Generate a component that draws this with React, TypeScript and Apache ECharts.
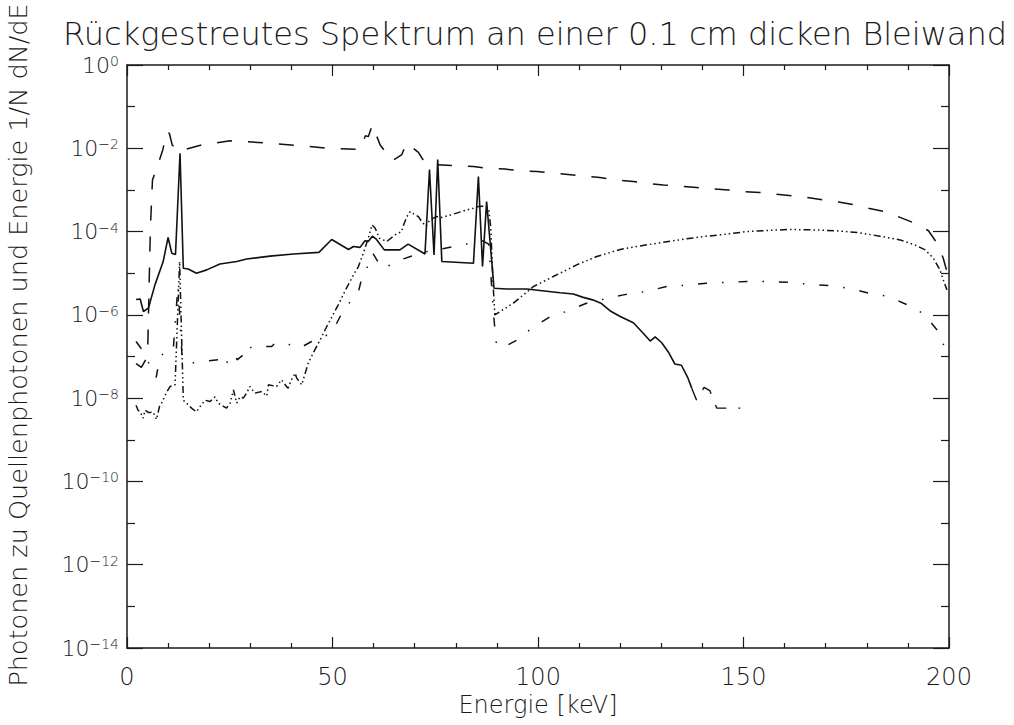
import React, { useEffect, useRef } from "react";
import * as echarts from "echarts";

// Energies (keV) and log10(1/N dN/dE)
const solidE = [2.2, 3.2, 4.0, 5.2, 6.8, 8.8, 10.0, 10.9, 11.8, 12.9, 13.7, 14.9, 16.9, 19.4, 22.6, 26.7, 29.1, 34.8, 40.5, 46.7, 49.8, 53.9, 55.1, 56.7, 57.9, 58.7, 59.7, 60.7, 62.6, 66.4, 68.4, 72.5, 73.6, 74.7, 75.6, 76.6, 84.3, 85.5, 86.5, 87.5, 89.3, 92.4, 97.3, 101.0, 105.4, 108.6, 111.0, 113.3, 115.3, 117.5, 120.0, 123.2, 125.6, 127.3, 128.5, 130.1, 131.7, 133.3, 134.9, 136.5, 137.4];
const solidLog = [-5.63, -5.62, -5.92, -5.84, -5.28, -4.72, -4.14, -4.52, -4.55, -2.12, -4.88, -4.90, -5.0, -4.92, -4.78, -4.72, -4.66, -4.59, -4.54, -4.50, -4.19, -4.43, -4.36, -4.38, -4.22, -4.24, -4.11, -4.19, -4.44, -4.44, -4.30, -4.54, -2.51, -4.56, -2.27, -4.72, -4.76, -2.68, -4.84, -3.28, -5.36, -5.38, -5.38, -5.42, -5.47, -5.50, -5.58, -5.64, -5.72, -5.90, -6.04, -6.19, -6.44, -6.63, -6.53, -6.67, -6.89, -7.18, -7.21, -7.52, -7.76];

const tailE = [137.4, 138.6, 140.4, 141.8, 143.5, 149.2];
const tailLog = [-7.76, -8.05, -7.74, -7.82, -8.24, -8.24];

const dashedE = [2.2, 3.5, 5.0, 5.4, 5.7, 6.2, 7.4, 8.7, 9.7, 10.3, 11.0, 12.5, 13.7, 18.2, 25.1, 33.6, 41.3, 49.0, 56.7, 58.0, 58.7, 59.7, 61.6, 64.5, 66.8, 68.1, 70.9, 72.7, 76.6, 80.2, 84.3, 87.5, 92.0, 95.6, 99.7, 111.4, 115.1, 119.1, 123.2, 126.4, 130.5, 134.5, 138.6, 141.8, 146.3, 149.9, 154.0, 157.7, 161.7, 165.4, 169.4, 173.1, 177.1, 180.4, 184.4, 188.1, 191.7, 195.0, 197.4, 198.6, 199.6];
const dashedLog = [-7.17, -7.26, -7.0, -5.2, -3.9, -2.76, -2.43, -2.04, -1.60, -1.64, -1.92, -2.08, -2.04, -1.92, -1.82, -1.87, -1.93, -2.0, -2.03, -1.70, -1.72, -1.44, -1.92, -2.3, -2.16, -1.87, -2.1, -2.38, -2.40, -2.42, -2.44, -2.48, -2.50, -2.54, -2.56, -2.67, -2.70, -2.76, -2.80, -2.84, -2.88, -2.91, -2.94, -2.97, -3.0, -3.04, -3.06, -3.10, -3.14, -3.18, -3.24, -3.29, -3.36, -3.44, -3.52, -3.66, -3.80, -3.98, -4.32, -4.64, -5.0];

const dashDotE = [2.2, 4.0, 5.5, 6.4, 7.1, 7.9, 9.7, 11.3, 12.4, 13.4, 14.5, 15.3, 18.6, 22.2, 22.6, 24.6, 26.3, 26.8, 28.3, 29.5, 30.3, 32.8, 35.2, 36.0, 39.2, 41.3, 42.7, 44.9, 47.5, 49.4, 50.6, 52.5, 55.1, 56.3, 57.2, 59.0, 59.8, 62.0, 65.2, 66.8, 72.0, 77.4, 81.6, 86.5, 88.0, 89.2, 89.8, 91.2, 95.0, 98.7, 102.7, 107.4, 111.8, 116.6, 120.8, 126.2, 131.3, 136.0, 141.0, 145.7, 150.8, 155.9, 160.9, 165.6, 170.9, 175.5, 180.6, 185.2, 189.9, 193.9, 197.4, 199.0, 199.8];
const dashDotLog = [-6.64, -6.88, -7.2, -7.4, -7.5, -7.07, -6.77, -6.77, -5.3, -7.0, -7.04, -7.16, -7.12, -7.08, -6.96, -7.16, -6.96, -7.08, -6.96, -6.72, -6.80, -6.76, -6.76, -6.68, -6.72, -6.68, -6.76, -6.64, -6.55, -6.44, -6.28, -5.92, -5.58, -5.45, -5.08, -4.76, -4.52, -4.88, -4.76, -4.67, -4.5, -4.40, -4.32, -4.22, -4.3, -6.0, -6.65, -6.80, -6.6, -6.30, -6.06, -5.90, -5.72, -5.61, -5.52, -5.44, -5.32, -5.29, -5.24, -5.22, -5.20, -5.20, -5.22, -5.26, -5.30, -5.36, -5.48, -5.56, -5.76, -5.98, -6.40, -6.80, -7.0];

const dash3DotE = [2.2, 2.7, 3.2, 3.9, 4.4, 5.3, 6.3, 7.2, 7.9, 8.4, 9.7, 10.5, 11.7, 12.8, 13.7, 14.5, 15.7, 16.9, 17.8, 19.0, 20.2, 21.4, 22.2, 24.2, 25.1, 25.9, 26.7, 27.5, 28.3, 29.1, 29.9, 31.1, 32.8, 34.0, 34.4, 36.4, 37.6, 38.8, 39.2, 40.0, 40.5, 40.9, 41.3, 42.5, 44.1, 45.7, 47.0, 48.6, 51.4, 53.4, 55.1, 56.3, 57.5, 58.7, 59.6, 60.4, 61.4, 63.2, 65.2, 66.8, 67.3, 68.1, 68.9, 70.1, 70.9, 71.7, 72.7, 73.7, 75.3, 76.6, 79.4, 81.4, 83.1, 84.3, 85.5, 86.7, 88.0, 88.5, 89.1, 89.5, 94.0, 98.9, 103.7, 109.4, 114.3, 120.0, 124.0, 128.9, 135.0, 140.2, 145.1, 150.8, 156.4, 161.3, 167.0, 172.7, 178.3, 183.2, 188.1, 191.7, 194.2, 196.2, 197.8, 198.6, 199.5];
const dash3DotLog = [-8.17, -8.29, -8.33, -8.48, -8.29, -8.35, -8.33, -8.51, -8.2, -8.12, -7.85, -7.72, -7.68, -4.72, -8.05, -8.12, -8.24, -8.33, -8.2, -8.05, -8.08, -7.97, -8.12, -8.24, -8.12, -7.8, -8.12, -7.97, -8.0, -7.88, -7.72, -7.88, -7.84, -7.95, -7.68, -7.72, -7.56, -7.72, -7.76, -7.56, -7.48, -7.40, -7.52, -7.68, -7.16, -6.84, -6.6, -6.28, -5.76, -5.36, -5.04, -4.84, -4.52, -4.16, -3.84, -3.92, -4.16, -4.24, -4.08, -4.0, -3.84, -3.64, -3.52, -3.6, -3.64, -3.76, -3.87, -3.72, -3.64, -3.66, -3.58, -3.52, -3.47, -3.44, -3.40, -3.39, -3.45, -3.9, -5.32, -6.0, -5.72, -5.32, -5.08, -4.80, -4.60, -4.43, -4.36, -4.28, -4.19, -4.12, -4.07, -4.0, -3.97, -3.95, -3.96, -3.98, -4.03, -4.11, -4.20, -4.32, -4.44, -4.64, -4.92, -5.16, -5.4];

const xTicks = [0, 50, 100, 150, 200];
const yExponents = [-14, -12, -10, -8, -6, -4, -2, 0];

const titleText = "Rückgestreutes Spektrum an einer 0.1 cm dicken Bleiwand";
const xName = "Energie [keV]";
const yName = "Photonen zu Quellenphotonen und Energie 1/N dN/dE";

const FONT = '"DejaVu Sans", sans-serif';
const INK = "#1a1a1a";

const pairs = (xs: number[], ys: number[]) => xs.map((x, i) => [x, ys[i]]);

export default function App() {
  const ref = useRef<HTMLDivElement>(null);
  useEffect(() => {
    if (!ref.current) return;
    const chart = echarts.init(ref.current, undefined, { renderer: "svg" });
    const axisLine = { show: true, onZero: false, lineStyle: { color: INK, width: 1.5 } };
    const xBase = (pos: "bottom" | "top", labels: boolean) => ({
      type: "value",
      position: pos,
      min: xTicks[0],
      max: xTicks[xTicks.length - 1],
      interval: 50,
      axisLine,
      axisTick: { show: true, inside: true, length: 11, lineStyle: { color: INK, width: 1.2 } },
      minorTick: { show: true, splitNumber: 5, length: 5, lineStyle: { color: INK, width: 1.2 } },
      splitLine: { show: false },
      minorSplitLine: { show: false },
      axisLabel: {
        show: labels,
        margin: 17,
        fontFamily: FONT,
        fontWeight: 200,
        fontSize: 24,
        color: INK,
      },
    });
    const yBase = (pos: "left" | "right", labels: boolean) => ({
      type: "value",
      position: pos,
      min: yExponents[0],
      max: yExponents[yExponents.length - 1],
      interval: 2,
      axisLine,
      axisTick: { show: true, inside: true, length: 16, lineStyle: { color: INK, width: 1.2 } },
      minorTick: { show: true, splitNumber: 2, length: 8, lineStyle: { color: INK, width: 1.2 } },
      splitLine: { show: false },
      minorSplitLine: { show: false },
      axisLabel: {
        show: labels,
        margin: 8,
        formatter: (v: number) => `{b|10}{s|${v === 0 ? "0" : "\u2212" + Math.abs(v)}}`,
        rich: {
          b: { fontFamily: FONT, fontWeight: 200, fontSize: 22, color: INK, lineHeight: 22, verticalAlign: "bottom" },
          s: { fontFamily: FONT, fontWeight: 200, fontSize: 14, color: INK, lineHeight: 12, verticalAlign: "top" },
        },
      },
    });
    const mk = (name: string, xs: number[], ys: number[], type: any, width = 1.5) => ({
      name,
      type: "line",
      data: pairs(xs, ys),
      showSymbol: false,
      symbol: "none",
      clip: true,
      lineStyle: { color: "#111", width, type },
    });
    chart.setOption({
      animation: false,
      backgroundColor: "#fff",
      grid: { left: 127, right: 65, top: 65, bottom: 77, containLabel: false },
      xAxis: [xBase("bottom", true), xBase("top", false)],
      yAxis: [yBase("left", true), yBase("right", false)],
      series: [
        mk("solid", solidE, solidLog, "solid", 1.6),
        mk("solid tail", tailE, tailLog, [13, 12], 1.4),
        mk("dashed", dashedE, dashedLog, [15, 16], 1.5),
        mk("dash-dot", dashDotE, dashDotLog, [9, 15, 1.5, 15], 1.5),
        mk("dash-dot-dot-dot", dash3DotE, dash3DotLog, [7, 3, 1.5, 3, 1.5, 3, 1.5, 3], 1.5),
      ],
      graphic: [
        {
          type: "text",
          x: 535,
          y: 34,
          style: {
            text: titleText,
            font: `200 32px ${FONT}`,
            fill: INK,
            align: "center",
            verticalAlign: "middle",
            textAlign: "center",
            textVerticalAlign: "middle",
          },
        },
        {
          type: "text",
          x: 538,
          y: 705,
          style: {
            text: xName,
            font: `200 24px ${FONT}`,
            fill: INK,
            align: "center",
            verticalAlign: "middle",
            textAlign: "center",
            textVerticalAlign: "middle",
          },
        },
        {
          type: "text",
          x: 18,
          y: 345,
          rotation: Math.PI / 2,
          style: {
            text: yName,
            font: `200 25.5px ${FONT}`,
            fill: INK,
            align: "center",
            verticalAlign: "middle",
            textAlign: "center",
            textVerticalAlign: "middle",
          },
        },
      ],
    });
    return () => chart.dispose();
  }, []);
  return (
    <div
      ref={ref}
      style={{ position: "fixed", left: 0, top: 0, width: 1014, height: 725, background: "#fff" }}
    />
  );
}
